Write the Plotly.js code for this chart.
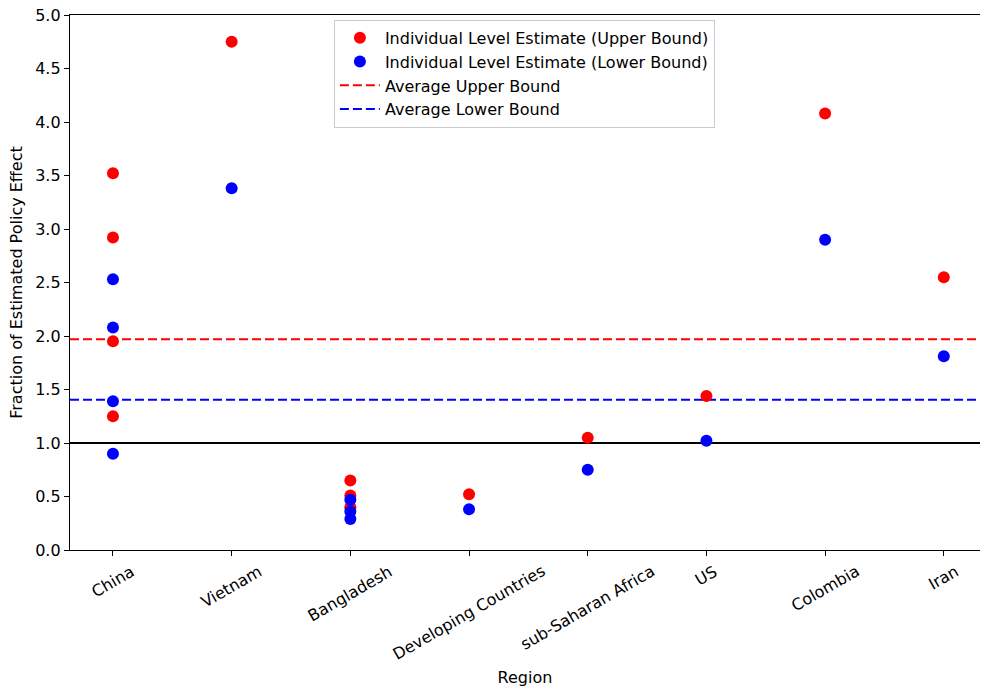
<!DOCTYPE html>
<html>
<head>
<meta charset="utf-8">
<script src="https://cdn.plot.ly/plotly-3.0.1.min.js"></script>
<style>
  body { margin: 0; background: #fff; }
  #chart { width: 981px; height: 690px; }
</style>
</head>
<body>
<div id="chart"></div>
<script>
// regions in axis order
const regions = ["China", "Vietnam", "Bangladesh", "Developing Countries",
                 "sub-Saharan Africa", "US", "Colombia", "Iran"];

// individual estimates, one entry per study (region, value)
const upper_region = ["China", "China", "China", "China", "Vietnam",
                      "Bangladesh", "Bangladesh", "Bangladesh", "Developing Countries",
                      "sub-Saharan Africa", "US", "Colombia", "Iran"];
const upper_value = [3.52, 2.92, 1.95, 1.25, 4.75,
                     0.65, 0.51, 0.40, 0.52,
                     1.05, 1.44, 4.08, 2.55];

const lower_region = ["China", "China", "China", "China", "Vietnam",
                      "Bangladesh", "Bangladesh", "Bangladesh", "Developing Countries",
                      "sub-Saharan Africa", "US", "Colombia", "Iran"];
const lower_value = [2.53, 2.08, 1.39, 0.90, 3.38,
                     0.47, 0.36, 0.29, 0.38,
                     0.75, 1.02, 2.90, 1.81];

const avg_upper = 1.97;
const avg_lower = 1.405;
const reference_level = 1.0;

const y_ticks = [0, 0.5, 1, 1.5, 2, 2.5, 3, 3.5, 4, 4.5, 5];

const font_family = "DejaVu Sans, sans-serif";
const font_size = 16;

let chart_data = [
    {
        type: "scatter",
        mode: "markers",
        x: upper_region,
        y: upper_value,
        name: "Individual Level Estimate (Upper Bound)",
        marker: {color: "#ff0000", size: 12},
        legendrank: 1
    },
    {
        type: "scatter",
        mode: "markers",
        x: lower_region,
        y: lower_value,
        name: "Individual Level Estimate (Lower Bound)",
        marker: {color: "#0000ff", size: 12},
        legendrank: 2
    }
];

// rotated, centred category labels (matplotlib style)
let region_labels = regions.map(r => ({
    x: r, xref: "x",
    y: 0, yref: "y",
    text: r,
    showarrow: false,
    textangle: -30,
    xanchor: "center",
    yanchor: "top",
    yshift: -9,
    font: {family: font_family, size: font_size, color: "#000"}
}));

const chart_layout = {
    width: 981,
    height: 690,
    paper_bgcolor: "#fff",
    plot_bgcolor: "#fff",
    margin: {l: 70, r: 1, t: 15, b: 140},
    font: {family: font_family, size: font_size, color: "#000"},
    showlegend: true,
    legend: {
        x: 0.29, y: 0.991,
        xanchor: "left", yanchor: "top",
        bgcolor: "rgba(255,255,255,0.8)",
        bordercolor: "#cccccc",
        borderwidth: 1,
        font: {family: font_family, size: font_size, color: "#000"},
        tracegroupgap: 0,
        itemwidth: 40
    },
    xaxis: {
        type: "category",
        categoryorder: "array",
        categoryarray: regions,
        range: [-0.362, 7.305],
        showgrid: false,
        zeroline: false,
        showline: true,
        mirror: true,
        linecolor: "#000",
        linewidth: 1.2,
        ticks: "outside",
        ticklen: 5,
        tickcolor: "#000",
        showticklabels: false,
        title: {text: "Region", standoff: 116, font: {family: font_family, size: font_size}}
    },
    yaxis: {
        range: [0, 5],
        tickvals: y_ticks,
        tickformat: ".1f",
        showgrid: false,
        zeroline: false,
        showline: true,
        linecolor: "#000",
        linewidth: 1.2,
        ticks: "outside",
        ticklen: 5,
        tickcolor: "#000",
        title: {text: "Fraction of Estimated Policy Effect", standoff: 8, font: {family: font_family, size: font_size}}
    },
    shapes: [
        {
            type: "line", xref: "paper", x0: 0, x1: 1,
            yref: "y", y0: avg_upper, y1: avg_upper,
            line: {color: "#ff0000", width: 2, dash: "9px,4px"},
            layer: "below",
            showlegend: true,
            name: "Average Upper Bound",
            legendrank: 3
        },
        {
            type: "line", xref: "paper", x0: 0, x1: 1,
            yref: "y", y0: avg_lower, y1: avg_lower,
            line: {color: "#0000ff", width: 2, dash: "9px,4px"},
            layer: "below",
            showlegend: true,
            name: "Average Lower Bound",
            legendrank: 4
        },
        {
            type: "line", xref: "paper", x0: 0, x1: 1,
            yref: "y", y0: reference_level, y1: reference_level,
            line: {color: "#000", width: 2},
            layer: "below"
        }
    ],
    annotations: region_labels
};

Plotly.newPlot("chart", chart_data, chart_layout, {displayModeBar: false, staticPlot: true});
</script>
</body>
</html>
